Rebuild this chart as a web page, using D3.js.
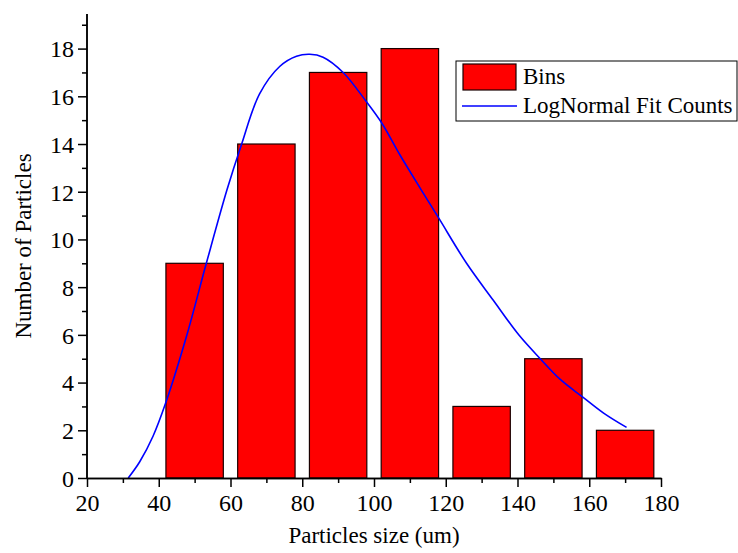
<!DOCTYPE html>
<meta charset="utf-8">
<style>
body { margin: 0; background: #fff; }
svg { font-family: "Liberation Serif", "Times New Roman", serif; }
.axis path, .axis line { stroke: #000; stroke-width: 1.5px; }
.bar { fill: #ff0000; stroke: #1a0000; stroke-width: 1.2px; }
.fit { fill: none; stroke: #0000ff; stroke-width: 1.6px; }
</style>
<body></body>
<script src="https://cdnjs.cloudflare.com/ajax/libs/d3/7.8.5/d3.min.js"></script>
<script>

// histogram bins (left edge of each 20um bin) and counts
var binStart = [40, 60, 80, 100, 120, 140, 160];
var binCount = [9, 14, 17, 18, 3, 5, 2];
var binWidth = 20;

// lognormal fit, points
var fitX = [31.5, 34.7, 38.4, 41.9, 47.7, 53.3, 59.0, 63.0, 68.1, 73.7, 78.4, 82.1, 85.8, 91.4, 97.9, 102.2, 107.2, 113.2, 118.1, 125.8, 133.2, 140.4, 146.4, 152.0, 158.3, 164.0, 170.4];
var fitY = [0, 0.68, 1.75, 3.13, 5.92, 9.02, 12.07, 13.95, 16.1, 17.25, 17.68, 17.76, 17.64, 17.0, 15.77, 14.87, 13.55, 12.07, 10.88, 9.0, 7.46, 5.99, 4.99, 4.12, 3.38, 2.72, 2.12];

var xTicks = [20, 40, 60, 80, 100, 120, 140, 160, 180];
var yTicks = [0, 2, 4, 6, 8, 10, 12, 14, 16, 18];

var W = 738, H = 553;
var margin = {top: 14, right: 77, bottom: 75, left: 87};
var serif = '"Liberation Serif", "Times New Roman", serif';

var svg = d3.select('body').append('svg')
    .attr('width', W)
    .attr('height', H);

var x = d3.scaleLinear().domain([20, 180]).range([margin.left, W - margin.right]);
var y = d3.scaleLinear().domain([0, 19.45]).range([H - margin.bottom, margin.top]);

// bars (80% of bin width)
svg.append('g')
  .selectAll('rect')
  .data(binStart)
  .enter().append('rect')
    .attr('class', 'bar')
    .attr('x', function(d) { return x(d + 2); })
    .attr('width', function(d) { return x(d + binWidth - 2) - x(d + 2); })
    .attr('y', function(d, i) { return y(binCount[i]); })
    .attr('height', function(d, i) { return y(0) - y(binCount[i]); });

// fit curve
var line = d3.line()
    .x(function(d) { return x(d[0]); })
    .y(function(d) { return y(d[1]); })
    .curve(d3.curveCatmullRom.alpha(0.5));

svg.append('path')
    .datum(d3.zip(fitX, fitY))
    .attr('class', 'fit')
    .attr('d', line);

// minor ticks
var xMinor = d3.range(30, 180, 20);
var yMinor = d3.range(1, 20, 2);

var gx = svg.append('g')
    .attr('class', 'axis')
    .attr('transform', 'translate(0,' + y(0) + ')');
gx.call(d3.axisBottom(x).tickValues(xMinor).tickSize(5).tickFormat('').tickSizeOuter(0));
gx.append('g').call(d3.axisBottom(x).tickValues(xTicks).tickSize(9).tickPadding(2).tickSizeOuter(0))
  .attr('font-family', serif).attr('font-size', 24)
  .selectAll('text').attr('dy', '0.9em').attr('fill', '#000');

var gy = svg.append('g')
    .attr('class', 'axis')
    .attr('transform', 'translate(' + x(20) + ',0)');
gy.call(d3.axisLeft(y).tickValues(yMinor).tickSize(5).tickFormat('').tickSizeOuter(0));
gy.append('g').call(d3.axisLeft(y).tickValues(yTicks).tickSize(9).tickPadding(4).tickSizeOuter(0))
  .attr('font-family', serif).attr('font-size', 24)
  .selectAll('text').attr('dy', '0.35em').attr('fill', '#000');
gy.selectAll('.domain').attr('d', 'M0,' + y(0) + 'V' + margin.top);

// axis titles
svg.append('text')
    .attr('x', (x(20) + x(180)) / 2)
    .attr('y', H - 10)
    .attr('text-anchor', 'middle')
    .style('font-size', '23px')
    .text('Particles size (um)');

svg.append('text')
    .attr('transform', 'translate(31,' + (y(0) + margin.top) / 2 + ')rotate(-90)')
    .attr('text-anchor', 'middle')
    .style('font-size', '23px')
    .text('Number of Particles');

// legend
var lg = svg.append('g').attr('transform', 'translate(456,61)');
lg.append('rect')
    .attr('width', 281).attr('height', 60)
    .attr('fill', '#fff').attr('stroke', '#000').attr('stroke-width', 1);
lg.append('rect')
    .attr('class', 'bar')
    .attr('x', 7).attr('y', 3).attr('width', 53).attr('height', 26);
lg.append('line')
    .attr('x1', 6).attr('x2', 61).attr('y1', 45).attr('y2', 45)
    .attr('stroke', '#0000ff').attr('stroke-width', 1.6);
lg.append('text').attr('x', 67).attr('y', 23).style('font-size', '23px').text('Bins');
lg.append('text').attr('x', 67).attr('y', 52).style('font-size', '23px').text('LogNormal Fit Counts');

</script>
